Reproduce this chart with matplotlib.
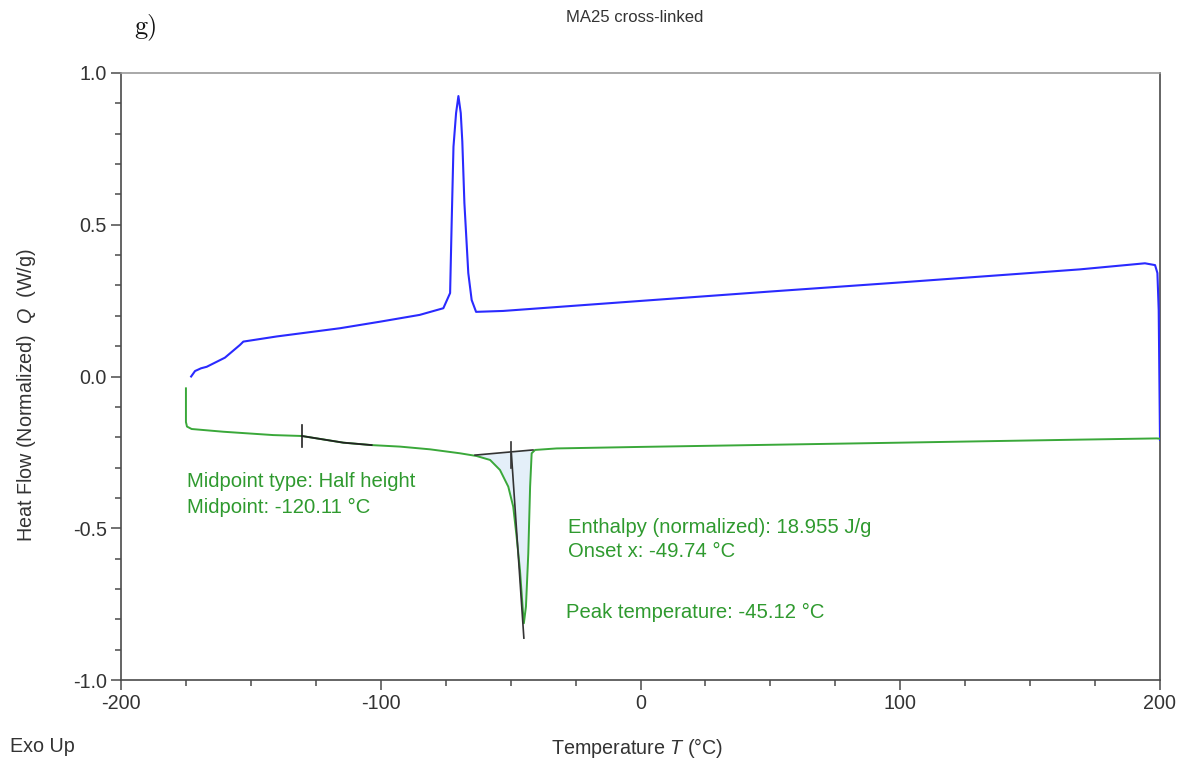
import matplotlib
matplotlib.use("Agg")
import matplotlib.pyplot as plt
import numpy as np
from matplotlib.ticker import MultipleLocator, FormatStrFormatter

# ---- Data ----------------------------------------------------------------
blue_T = [-173.0, -171.5, -169.2, -167.0, -160.0, -154.2, -152.9, -140.0, -115.7,
          -100.0, -85.0, -75.9, -73.3, -72.7, -72.0, -71.0, -70.1, -69.2, -68.6,
          -67.8, -66.3, -65.0, -63.3, -52.9, 0.0, 50.0, 100.0, 150.0, 169.2,
          194.2, 198.1, 199.0, 199.5, 200.0]
blue_Q = [0.000, 0.018, 0.027, 0.032, 0.062, 0.104, 0.115, 0.132, 0.159,
          0.181, 0.203, 0.225, 0.275, 0.506, 0.757, 0.868, 0.924, 0.868, 0.774,
          0.572, 0.341, 0.252, 0.213, 0.216, 0.249, 0.280, 0.310, 0.341, 0.353,
          0.373, 0.367, 0.341, 0.219, -0.209]

green_T = [-175.0, -175.0, -174.6, -172.8, -160.6, -141.4, -130.4, -114.4, -103.5,
           -92.6, -81.0, -69.5, -63.1, -57.9, -54.1, -50.9, -49.0, -47.7, -46.4,
           -45.4, -44.9, -44.1, -43.2, -42.5, -41.9, -40.6, -32.3, 0.0, 100.0,
           169.2, 198.7, 200.0]
green_Q = [-0.039, -0.150, -0.165, -0.173, -0.182, -0.193, -0.196, -0.218, -0.226,
           -0.231, -0.240, -0.253, -0.262, -0.275, -0.308, -0.363, -0.429, -0.528,
           -0.638, -0.758, -0.813, -0.758, -0.583, -0.363, -0.253, -0.242, -0.237,
           -0.232, -0.218, -0.208, -0.204, -0.205]

# evaluation marks
glass_range = (-130.4, -103.5)
midpoint_T = -130.4
peak_base_T = [-63.7, -41.4]
peak_base_Q = [-0.259, -0.242]
onset_T = -49.7
tangent_T = [-49.7, -44.9]
tangent_Q = [-0.255, -0.862]

labels_mid = ["Midpoint type: Half height", "Midpoint: -120.11 °C"]
labels_peak = ["Enthalpy (normalized): 18.955 J/g", "Onset x: -49.74 °C"]
label_peak_temp = "Peak temperature: -45.12 °C"

# ---- Plot -----------------------------------------------------------------
plt.rcParams["font.family"] = ["Liberation Sans", "DejaVu Sans"]
plt.rcParams["axes.unicode_minus"] = False
plt.rcParams["mathtext.fontset"] = "custom"
plt.rcParams["mathtext.it"] = "Liberation Sans:italic"
plt.rcParams["mathtext.rm"] = "Liberation Sans"
TXT = "#333333"
GREEN = "#2f9a2f"
AX = "#4a4a4a"
FS = 14.2
FS_ANN = 14.6

fig = plt.figure(figsize=(11.9, 7.69), dpi=100)
ax = fig.add_axes([121 / 1190, 1 - 680 / 769, (1160 - 121) / 1190, (680 - 73) / 769])

gT = np.array(green_T); gQ = np.array(green_Q)

# enthalpy area
sel = (gT >= -63.1) & (gT <= -41.9)
base = np.interp(gT[sel], peak_base_T, peak_base_Q)
ax.fill_between(gT[sel], gQ[sel], base, color="#e4eff9", lw=0, zorder=1)

ax.plot(blue_T, blue_Q, color="#2a2aff", lw=1.5, zorder=3)
ax.plot(gT, gQ, color="#3aa83a", lw=1.4, zorder=3)

# black evaluation overlays
gsel = (gT >= glass_range[0]) & (gT <= glass_range[1])
ax.plot(gT[gsel], gQ[gsel], color="#222222", lw=1.3, zorder=4)
ax.plot([midpoint_T, midpoint_T], [-0.160, -0.233], color="#222222", lw=1.2, zorder=4)
ax.plot(peak_base_T, peak_base_Q, color="#333333", lw=1.2, zorder=4)
ax.plot([onset_T, onset_T], [-0.215, -0.30], color="#333333", lw=1.2, zorder=4)
ax.plot(tangent_T, tangent_Q, color="#333333", lw=1.2, zorder=4)

ax.set_xlim(-200, 200)
ax.set_ylim(-1.0, 1.0)
ax.xaxis.set_major_locator(MultipleLocator(100))
ax.xaxis.set_minor_locator(MultipleLocator(25))
ax.yaxis.set_major_locator(MultipleLocator(0.5))
ax.yaxis.set_minor_locator(MultipleLocator(0.1))
ax.yaxis.set_major_formatter(FormatStrFormatter("%.1f"))
ax.tick_params(which="major", direction="out", length=7, width=1.1, color=AX,
               labelsize=FS, labelcolor=TXT, pad=3)
ax.tick_params(which="minor", direction="out", length=4.5, width=1.1, color=AX)
for s in ax.spines.values():
    s.set_color(AX); s.set_linewidth(1.2)
ax.spines["top"].set_color("#9a9a9a")

# annotations
ax.text(-174.6, -0.345, labels_mid[0], color=GREEN, fontsize=FS_ANN, va="center")
ax.text(-174.6, -0.430, labels_mid[1], color=GREEN, fontsize=FS_ANN, va="center")
ax.text(-27.9, -0.496, labels_peak[0], color=GREEN, fontsize=FS_ANN, va="center")
ax.text(-27.9, -0.578, labels_peak[1], color=GREEN, fontsize=FS_ANN, va="center")
ax.text(-28.7, -0.779, label_peak_temp, color=GREEN, fontsize=FS_ANN, va="center")

fig.text(635 / 1190, 1 - 17 / 769, "MA25 cross-linked", ha="center", va="center",
         fontsize=12, color=TXT)
fig.text(134 / 1190, 1 - 27 / 769, "g)", ha="left", va="center",
         fontsize=19, family="cmr10", color="#111111")
fig.text(27 / 1190, 1 - 395 / 769, r"Heat Flow (Normalized)  $\it{Q}$  (W/g)",
         rotation=90, ha="center", va="center", fontsize=FS, color=TXT)
fig.text(637 / 1190, 1 - 748 / 769, r"Temperature $\it{T}$ (°C)", ha="center",
         va="center", fontsize=FS, color=TXT)
fig.text(10 / 1190, 1 - 747 / 769, "Exo Up", ha="left", va="center",
         fontsize=FS, color=TXT)

fig.savefig("out.png", dpi=100)
